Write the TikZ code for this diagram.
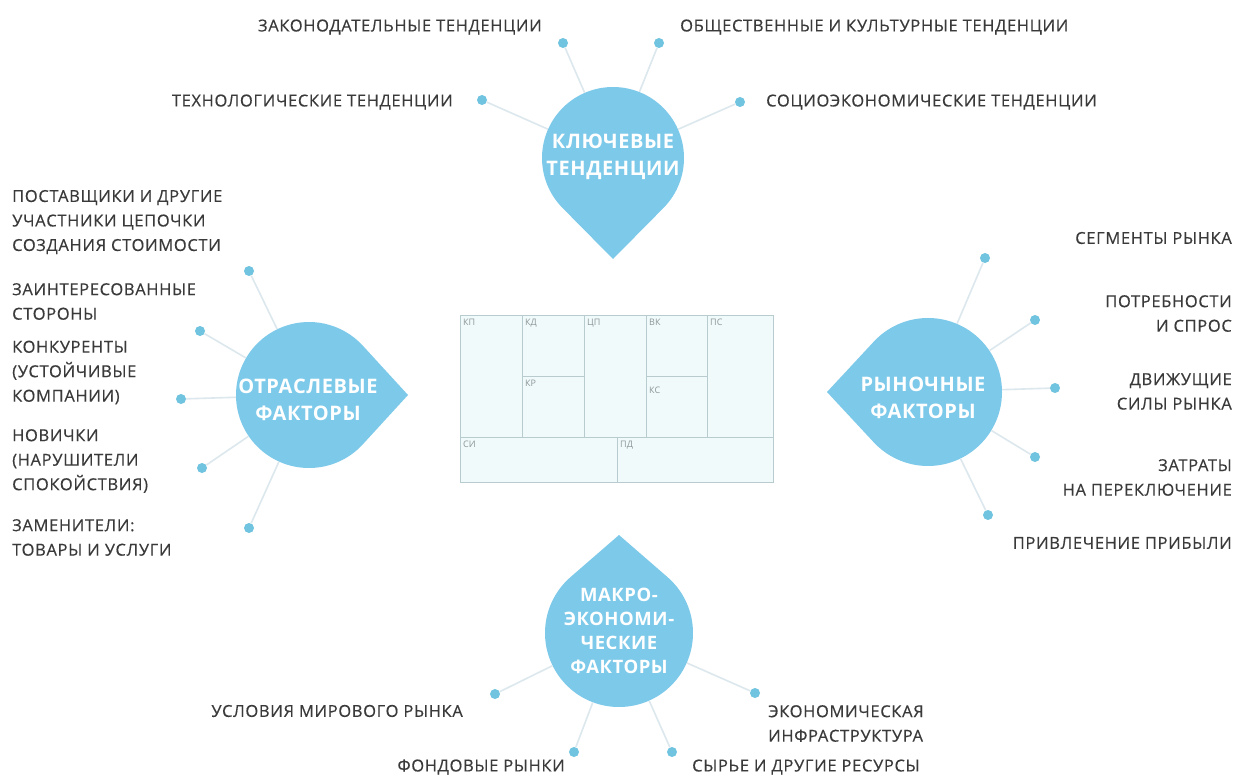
\documentclass[tikz,border=0pt]{standalone}
\usepackage{fontspec}
\setmainfont{Open Sans}
\newfontfamily\lblfont[LetterSpace=4,FakeBold=0.35]{Open Sans}
\newfontfamily\dropfont[LetterSpace=3]{Open Sans}
\usetikzlibrary{calc}
\definecolor{dropc}{RGB}{124,201,234}
\definecolor{dotc}{RGB}{112,196,224}
\definecolor{linec}{RGB}{220,232,237}
\definecolor{txtc}{RGB}{58,58,58}
\definecolor{cvfill}{RGB}{241,250,251}
\definecolor{cvline}{RGB}{184,204,208}
\definecolor{cvtxt}{RGB}{140,150,152}
\newcommand\mydrop[5]{%
  \pgfmathsetmacro\dth{acos(#3/#5)}%
  \fill[dropc] ($(#1,#2)+(#4:#5)$) -- ($(#1,#2)+(#4+\dth:#3)$)
    arc[start angle=#4+\dth, end angle=#4+360-\dth, radius=#3] -- cycle;}
\tikzset{
  lbl/.style={text=txtc, font=\lblfont\fontsize{16.5}{24.5}\selectfont, inner sep=0pt},
  droptxt/.style={text=white, font=\dropfont\bfseries\fontsize{20}{27}\selectfont, inner sep=0pt, align=center},
  dotn/.style={circle, fill=dotc, minimum size=10pt, inner sep=0pt},
  conn/.style={draw=linec, line width=1.6pt},
  ring/.style={circle, minimum size=#1, inner sep=0pt},
  cvl/.style={draw=cvline, line width=0.8pt},
  cvlbl/.style={text=cvtxt, font=\fontsize{9}{10}\selectfont, inner sep=0pt, anchor=north west}
}
\begin{document}
\begin{tikzpicture}[x=1pt,y=-1pt]
\fill[white] (0,0) rectangle (1242,778);
\useasboundingbox (0,0) rectangle (1242,778);

% canvas
\fill[cvfill] (460,315) rectangle (773,482);
\draw[cvl] (460,315) rectangle (773,482);
\draw[cvl] (460,437) -- (773,437);
\draw[cvl] (522,315) -- (522,437);
\draw[cvl] (584,315) -- (584,437);
\draw[cvl] (646,315) -- (646,437);
\draw[cvl] (707,315) -- (707,437);
\draw[cvl] (522,376) -- (584,376);
\draw[cvl] (646,376) -- (707,376);
\draw[cvl] (617,437) -- (617,482);
\node[cvlbl] (ckp) at (463,319) {КП};
\node[cvlbl] (ckd) at (525,319) {КД};
\node[cvlbl] (ccp) at (587,319) {ЦП};
\node[cvlbl] (cvk) at (649,319) {ВК};
\node[cvlbl] (cps) at (710,319) {ПС};
\node[cvlbl] (ckr) at (525,380) {КР};
\node[cvlbl] (cks) at (649,387) {КС};
\node[cvlbl] (csi) at (463,441) {СИ};
\node[cvlbl] (cpd) at (620,441) {ПД};

% drops
\mydrop{613}{158}{71}{90}{101}
\mydrop{309}{395}{73}{0}{99}
\mydrop{928}{392}{74}{180}{101}
\mydrop{619}{633}{74}{270}{98}
\node[ring=142pt] (ktb) at (613,158) {};
\node[ring=146pt] (ofb) at (309,395) {};
\node[ring=148pt] (rfb) at (928,392) {};
\node[ring=148pt] (mfb) at (619,633) {};

% dots
\node[dotn] (kt1) at (482,100) {};
\node[dotn] (kt2) at (563,43) {};
\node[dotn] (kt3) at (659,43) {};
\node[dotn] (kt4) at (740,102) {};
\node[dotn] (of1) at (249,271) {};
\node[dotn] (of2) at (200,331) {};
\node[dotn] (of3) at (181,399) {};
\node[dotn] (of4) at (202,468) {};
\node[dotn] (of5) at (249,528) {};
\node[dotn] (rf1) at (985,258) {};
\node[dotn] (rf2) at (1035,320) {};
\node[dotn] (rf3) at (1055,388) {};
\node[dotn] (rf4) at (1035,457) {};
\node[dotn] (rf5) at (988,515) {};
\node[dotn] (mf1) at (495,694) {};
\node[dotn] (mf2) at (574,752) {};
\node[dotn] (mf3) at (672,752) {};
\node[dotn] (mf4) at (755,693) {};

% connectors
\foreach \d in {kt1,kt2,kt3,kt4} \draw[conn] (\d) -- (ktb);
\foreach \d in {of1,of2,of3,of4,of5} \draw[conn] (\d) -- (ofb);
\foreach \d in {rf1,rf2,rf3,rf4,rf5} \draw[conn] (\d) -- (rfb);
\foreach \d in {mf1,mf2,mf3,mf4} \draw[conn] (\d) -- (mfb);

% drop texts
\node[droptxt] (kt) at (613,157) {КЛЮЧЕВЫЕ\\ТЕНДЕНЦИИ};
\node[droptxt] (of) at (308,400) {ОТРАСЛЕВЫЕ\\ФАКТОРЫ};
\node[droptxt] (rf) at (923,398) {РЫНОЧНЫЕ\\ФАКТОРЫ};
\node[droptxt, font=\dropfont\bfseries\fontsize{18.5}{24}\selectfont] (mf) at (619,631) {МАКРО-\\ЭКОНОМИ-\\ЧЕСКИЕ\\ФАКТОРЫ};

% labels top
\node[lbl, anchor=east] (lt1) at (542,27) {ЗАКОНОДАТЕЛЬНЫЕ ТЕНДЕНЦИИ};
\node[lbl, anchor=west] (lt2) at (680,27) {ОБЩЕСТВЕННЫЕ И КУЛЬТУРНЫЕ ТЕНДЕНЦИИ};
\node[lbl, anchor=east] (lt3) at (453,102) {ТЕХНОЛОГИЧЕСКИЕ ТЕНДЕНЦИИ};
\node[lbl, anchor=west] (lt4) at (766,102) {СОЦИОЭКОНОМИЧЕСКИЕ ТЕНДЕНЦИИ};

% labels left
\node[lbl, anchor=west, align=left] (ll1) at (12,222) {ПОСТАВЩИКИ И ДРУГИЕ\\УЧАСТНИКИ ЦЕПОЧКИ\\СОЗДАНИЯ СТОИМОСТИ};
\node[lbl, anchor=west, align=left] (ll2) at (12,301.5) {ЗАИНТЕРЕСОВАННЫЕ\\СТОРОНЫ};
\node[lbl, anchor=west, align=left] (ll3) at (12,372.5) {КОНКУРЕНТЫ\\(УСТОЙЧИВЫЕ\\КОМПАНИИ)};
\node[lbl, anchor=west, align=left] (ll4) at (12,461) {НОВИЧКИ\\(НАРУШИТЕЛИ\\СПОКОЙСТВИЯ)};
\node[lbl, anchor=west, align=left] (ll5) at (12,537.5) {ЗАМЕНИТЕЛИ:\\ТОВАРЫ И УСЛУГИ};

% labels right
\node[lbl, anchor=east, align=right] (lr1) at (1232,238) {СЕГМЕНТЫ РЫНКА};
\node[lbl, anchor=east, align=right] (lr2) at (1232,313.5) {ПОТРЕБНОСТИ\\И СПРОС};
\node[lbl, anchor=east, align=right] (lr3) at (1232,391.5) {ДВИЖУЩИЕ\\СИЛЫ РЫНКА};
\node[lbl, anchor=east, align=right] (lr4) at (1232,477.5) {ЗАТРАТЫ\\НА ПЕРЕКЛЮЧЕНИЕ};
\node[lbl, anchor=east, align=right] (lr5) at (1232,543) {ПРИВЛЕЧЕНИЕ ПРИБЫЛИ};

% labels bottom
\node[lbl, anchor=east] (lb1) at (463,711) {УСЛОВИЯ МИРОВОГО РЫНКА};
\node[lbl, anchor=west, align=left] (lb2) at (768,723.5) {ЭКОНОМИЧЕСКАЯ\\ИНФРАСТРУКТУРА};
\node[lbl, anchor=east] (lb3) at (565,767) {ФОНДОВЫЕ РЫНКИ};
\node[lbl, anchor=west] (lb4) at (692,767) {СЫРЬЕ И ДРУГИЕ РЕСУРСЫ};
\end{tikzpicture}
\end{document}
